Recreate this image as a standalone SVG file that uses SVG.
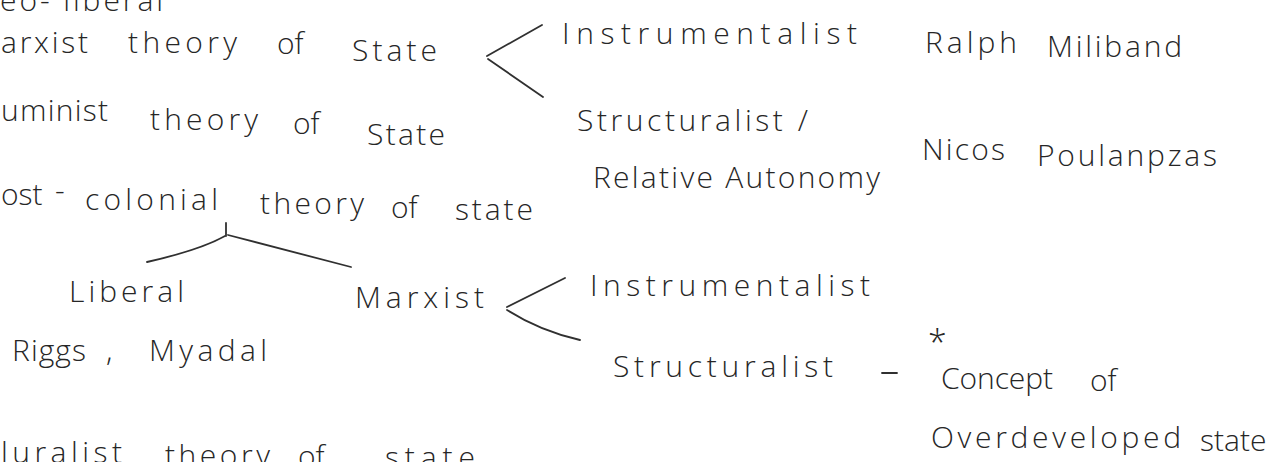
<svg xmlns="http://www.w3.org/2000/svg" width="1277" height="462" viewBox="0 0 1277 462">
<style>
text{font-family:"Open Sans","Liberation Sans",sans-serif;font-weight:300;font-size:30px;fill:#262626}
.c{fill:none;stroke:#303030;stroke-width:1.8;stroke-linecap:round}
</style>
<rect width="1277" height="462" fill="#ffffff"/>
<g id="connectors">
<path class="c" d="M542,25 L487,56"/>
<path class="c" d="M488,59 L543,97"/>
<path class="c" d="M226,223 L226,236"/>
<path class="c" d="M225,236 Q200,250 147,262"/>
<path class="c" d="M228,235 L351,267"/>
<path class="c" d="M565,278 L507,307"/>
<path class="c" d="M507,310 Q540,331 580,340"/>
<path class="c" d="M882,373 L897,373"/>
</g>
<g id="neo-liberal"><text x="0" y="11" textLength="163" lengthAdjust="spacing">eo- liberal</text></g>
<g id="marxist-theory">
<text x="1" y="53" textLength="87" lengthAdjust="spacing">arxist</text>
<text x="128" y="53" textLength="109" lengthAdjust="spacing">theory</text>
<text x="277" y="54">of</text>
<text x="352" y="61" textLength="85" lengthAdjust="spacing">State</text>
</g>
<g id="feminist-theory">
<text x="1" y="121" textLength="107" lengthAdjust="spacing">uminist</text>
<text x="150" y="130" textLength="108" lengthAdjust="spacing">theory</text>
<text x="293" y="134">of</text>
<text x="367" y="145" textLength="78" lengthAdjust="spacing">State</text>
</g>
<g id="postcolonial-theory">
<text x="1" y="205">ost</text>
<text x="55" y="201">-</text>
<text x="85" y="210" textLength="133" lengthAdjust="spacing">colonial</text>
<text x="260" y="214" textLength="104" lengthAdjust="spacing">theory</text>
<text x="391" y="218">of</text>
<text x="455" y="220" textLength="78" lengthAdjust="spacing">state</text>
</g>
<g id="instrumentalist-1"><text x="562" y="44" textLength="295" lengthAdjust="spacing">Instrumentalist</text></g>
<g id="miliband">
<text x="925" y="53" textLength="92" lengthAdjust="spacing">Ralph</text>
<text x="1047" y="57" textLength="135" lengthAdjust="spacing">Miliband</text>
</g>
<g id="structuralist-1">
<text x="577" y="131" textLength="231" lengthAdjust="spacing">Structuralist /</text>
<text x="593" y="188" textLength="287" lengthAdjust="spacing">Relative Autonomy</text>
</g>
<g id="poulanpzas">
<text x="922" y="160" textLength="83" lengthAdjust="spacing">Nicos</text>
<text x="1037" y="166" textLength="180" lengthAdjust="spacing">Poulanpzas</text>
</g>
<g id="liberal"><text x="69" y="302" textLength="115" lengthAdjust="spacing">Liberal</text></g>
<g id="riggs-myadal">
<text x="12" y="361" textLength="74" lengthAdjust="spacing">Riggs</text>
<text x="106" y="361">,</text>
<text x="149" y="361" textLength="118" lengthAdjust="spacing">Myadal</text>
</g>
<g id="marxist"><text x="355" y="308" textLength="129" lengthAdjust="spacing">Marxist</text></g>
<g id="instrumentalist-2"><text x="590" y="296" textLength="280" lengthAdjust="spacing">Instrumentalist</text></g>
<g id="structuralist-2"><text x="613" y="377" textLength="220" lengthAdjust="spacing">Structuralist</text></g>
<g id="overdeveloped">
<text x="928" y="355" style="font-size:34px">*</text>
<text x="941" y="389" textLength="112" lengthAdjust="spacing">Concept</text>
<text x="1090" y="391">of</text>
<text x="931" y="448" textLength="250" lengthAdjust="spacing">Overdeveloped</text>
<text x="1200" y="451">state</text>
</g>
<g id="pluralist-theory">
<text x="1" y="463" textLength="121" lengthAdjust="spacing">luralist</text>
<text x="165" y="466" textLength="105" lengthAdjust="spacing">theory</text>
<text x="298" y="467">of</text>
<text x="385" y="468" textLength="90" lengthAdjust="spacing">state</text>
</g>
</svg>
